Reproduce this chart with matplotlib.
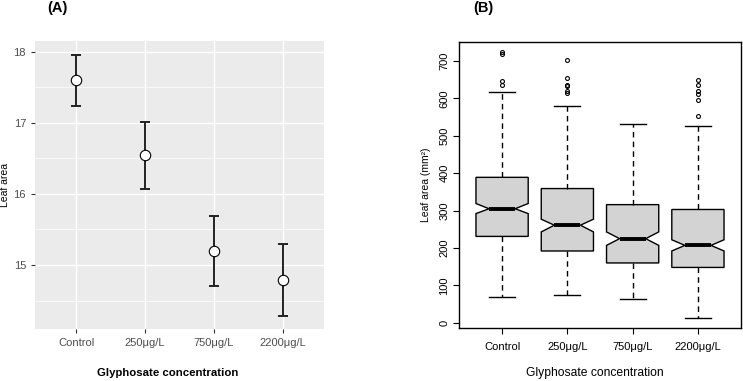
import numpy as np
import matplotlib
matplotlib.use("Agg")
import matplotlib.pyplot as plt
from matplotlib.ticker import MultipleLocator

plt.rcParams['font.family'] = ['Liberation Sans', 'DejaVu Sans']

groups = ["Control", "250\u03bcg/L", "750\u03bcg/L", "2200\u03bcg/L"]

# panel A: mean leaf area with error bars
means = [17.60, 16.54, 15.20, 14.79]
err_hi = [17.96, 17.01, 15.69, 15.30]
err_lo = [17.24, 16.07, 14.70, 14.28]

# panel B: box plot stats (mm^2)
med = [305, 261, 225, 207]
q1 = [231, 192, 160, 148]
q3 = [389, 359, 316, 303]
whislo = [69, 75, 63, 14]
whishi = [616, 580, 532, 526]
ci_lo = [292, 243, 207, 192]
ci_hi = [319, 277, 243, 222]
fliers = [[723, 719, 648, 637],
          [702, 655, 637, 632, 620, 614],
          [],
          [650, 636, 619, 612, 595, 552]]

fig = plt.figure(figsize=(7.43, 3.81), dpi=100)

#### panel A (ggplot look) ####
axA = fig.add_axes([35/743, 1-329/381, 289/743, 288/381])
axA.set_facecolor("#EBEBEB")
x = np.arange(1, len(groups)+1)
yerr = [np.array(means)-np.array(err_lo), np.array(err_hi)-np.array(means)]
axA.errorbar(x, means, yerr=yerr, fmt='none', ecolor='#222222', elinewidth=1.4,
             capsize=3.5, capthick=1.4, zorder=3)
axA.plot(x, means, 'o', ms=7.5, mfc='white', mec='black', mew=0.8, zorder=4)
axA.set_xlim(0.4, 4.6)
axA.set_ylim(14.1, 18.15)
axA.yaxis.set_major_locator(MultipleLocator(1))
axA.yaxis.set_minor_locator(MultipleLocator(0.5))
axA.grid(which='major', color='white', lw=1.0)
axA.grid(which='minor', color='white', lw=0.5)
axA.set_axisbelow(True)
for s in axA.spines.values():
    s.set_visible(False)
axA.set_xticks(x)
axA.set_xticklabels(groups)
axA.tick_params(axis='both', which='major', length=3, color='#333333',
                labelcolor='#4D4D4D', labelsize=8)
axA.tick_params(axis='y', which='minor', length=0)
axA.set_xlabel("Glyphosate concentration", fontsize=8.2, fontweight='bold')
axA.xaxis.set_label_coords(0.46, -0.135)
axA.set_ylabel("Leaf area", fontsize=7.5)
axA.yaxis.set_label_coords(-0.087, 0.5)
fig.text(47/743, 1-8/381, "(A)", fontsize=10.5, fontweight='bold', va='center')

#### panel B (base R boxplot look) ####
axB = fig.add_axes([459/743, 1-328/381, 282/743, 286/381])
stats = []
for i in range(len(groups)):
    stats.append(dict(med=med[i], q1=q1[i], q3=q3[i], whislo=whislo[i],
                      whishi=whishi[i], cilo=ci_lo[i], cihi=ci_hi[i],
                      fliers=fliers[i], label=groups[i]))
axB.bxp(stats, positions=x, widths=0.8, shownotches=True, patch_artist=True,
        boxprops=dict(facecolor='#D3D3D3', edgecolor='black', lw=1.0),
        medianprops=dict(color='black', lw=2.8),
        whiskerprops=dict(color='black', lw=1.0, linestyle=(0, (4, 3))),
        capprops=dict(color='black', lw=1.0),
        capwidths=0.4,
        flierprops=dict(marker='o', ms=2.8, mfc='none', mec='black', mew=0.8))
axB.set_xlim(0.34, 4.66)
axB.set_ylim(-14, 751)
axB.set_yticks(np.arange(0, 701, 100))
axB.tick_params(axis='y', labelrotation=90, length=4, labelsize=8, pad=3)
axB.tick_params(axis='x', length=4, labelsize=8, pad=6)
for lab in axB.get_yticklabels():
    lab.set_va('center')
axB.set_xticks(x)
axB.set_xticklabels(groups)
for s in axB.spines.values():
    s.set_linewidth(1.0)
axB.set_xlabel("Glyphosate concentration", fontsize=8.7)
axB.xaxis.set_label_coords(0.482, -0.138)
axB.set_ylabel("Leaf area (mm\u00b2)", fontsize=7.5, labelpad=6)
fig.text(473/743, 1-8/381, "(B)", fontsize=10.5, fontweight='bold', va='center')

fig.savefig("out.png", dpi=100)
